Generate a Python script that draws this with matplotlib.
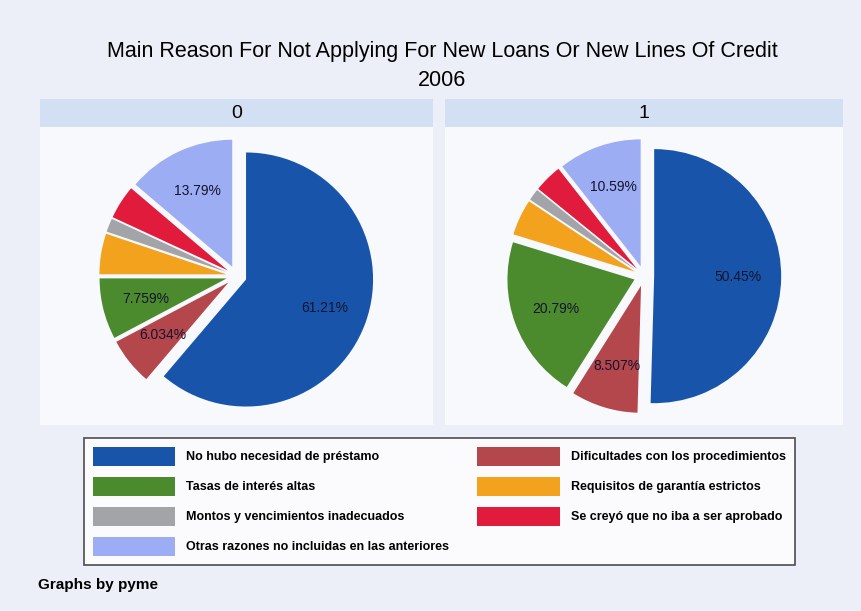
import matplotlib
matplotlib.use("Agg")
import matplotlib.pyplot as plt
from matplotlib.patches import Patch
import numpy as np

plt.rcParams['font.family'] = ['Liberation Sans', 'DejaVu Sans']

# categories in pie order (clockwise from 12 o'clock)
categories = [
    "No hubo necesidad de préstamo",
    "Dificultades con los procedimientos",
    "Tasas de interés altas",
    "Requisitos de garantía estrictos",
    "Montos y vencimientos inadecuados",
    "Se creyó que no iba a ser aprobado",
    "Otras razones no incluidas en las anteriores",
]
colors = ["#1855AA", "#B3474B", "#4B8A2D", "#F3A21E", "#A2A4A8", "#E11B3C", "#9DADF3"]

# pyme = 0 and pyme = 1 (percent)
pct_0 = [61.21, 6.034, 7.759, 5.17, 1.72, 4.31, 13.79]
pct_1 = [50.45, 8.507, 20.79, 4.6, 1.5, 3.57, 10.59]
labels_0 = ["61.21%", "6.034%", "7.759%", "", "", "", "13.79%"]
labels_1 = ["50.45%", "8.507%", "20.79%", "", "", "", "10.59%"]
panel_titles = ["0", "1"]

fig = plt.figure(figsize=(8.61, 6.11), dpi=100)
fig.patch.set_facecolor("#ECEEF8")

W, H = 861, 611

def rect(x0, y0, x1, y1):
    return [x0 / W, 1 - y1 / H, (x1 - x0) / W, (y1 - y0) / H]

def blank(ax):
    ax.set_xticks([])
    ax.set_yticks([])
    for s in ax.spines.values():
        s.set_visible(False)

panels = [(40, 433), (445, 843)]
for (x0, x1), title, vals, labs in zip(panels, panel_titles, [pct_0, pct_1], [labels_0, labels_1]):
    # title strip
    sax = fig.add_axes(rect(x0, 99, x1, 127))
    sax.set_facecolor("#D3E0F3")
    blank(sax)
    sax.text(0.5, 0.5, title, ha="center", va="center", fontsize=14, transform=sax.transAxes)

    bg = fig.add_axes(rect(x0, 127, x1, 425))
    bg.set_facecolor("#F8F9FD")
    blank(bg)

    ax = fig.add_axes(rect(x0, 127, x1, 425))
    ax.patch.set_alpha(0)
    wedges, _ = ax.pie(vals, colors=colors, startangle=90, counterclock=False,
                       explode=[0.08] * len(vals), radius=1.0,
                       wedgeprops=dict(linewidth=0))
    for w, lab in zip(wedges, labs):
        if not lab:
            continue
        th = np.deg2rad((w.theta1 + w.theta2) / 2)
        cx, cy = w.center
        ax.text(cx + 0.66 * np.cos(th), cy + 0.66 * np.sin(th), lab,
                ha="center", va="center", fontsize=10, color="#14142e")
    ax.set_aspect("equal", adjustable="datalim")
    ax.set_ylim(-1.173, 1.173)
    ax.set_xlim(-1.3, 1.3)
    blank(ax)

fig.text(442 / W, 1 - 51 / H, "Main Reason For Not Applying For New Loans Or New Lines Of Credit",
         ha="center", va="center", fontsize=15.5)
fig.text(442 / W, 1 - 80 / H, "2006", ha="center", va="center", fontsize=15.5)

order = [0, 2, 4, 6, 1, 3, 5]
handles = [Patch(facecolor=colors[i], edgecolor="none") for i in order]
leg_labels = [categories[i] for i in order]
leg = fig.legend(handles, leg_labels, ncol=2, loc="upper left",
                 bbox_to_anchor=(84 / W, 1 - 438 / H), borderaxespad=0,
                 handlelength=6.6, handleheight=2.0, labelspacing=0.85,
                 borderpad=0.7, handletextpad=0.9, columnspacing=2.2,
                 frameon=True, fancybox=False, prop=dict(weight="bold", size=9))
leg.get_frame().set_edgecolor("#222222")
leg.get_frame().set_linewidth(1.2)
leg.get_frame().set_facecolor("white")

fig.text(38 / W, 1 - 585 / H, "Graphs by pyme", ha="left", va="center", fontsize=11, weight="bold")

fig.savefig("out.png", dpi=100, facecolor=fig.get_facecolor())
